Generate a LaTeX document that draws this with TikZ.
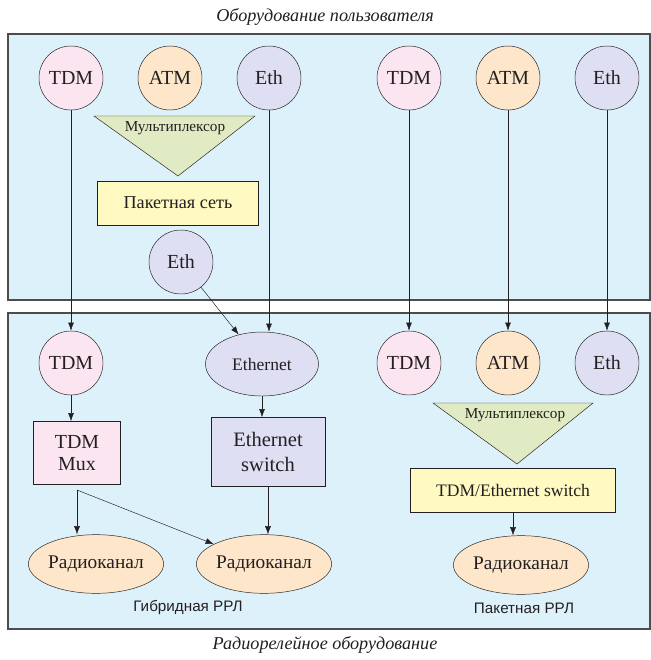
\documentclass[tikz,border=0pt]{standalone}
\usepackage{fontspec}
\setmainfont{Liberation Serif}
\newfontfamily\captionsans{Liberation Sans}
\usetikzlibrary{shapes.geometric,arrows.meta}

\definecolor{panelblue}{HTML}{DDF1FA}
\definecolor{tdmpink}{HTML}{FBE5F0}
\definecolor{atmorange}{HTML}{FDE6C9}
\definecolor{ethlilac}{HTML}{DEDFF3}
\definecolor{muxgreen}{HTML}{E0EAC3}
\definecolor{netyellow}{HTML}{FFFAC2}
\definecolor{inkgray}{HTML}{231F20}

\tikzset{
  port/.style={circle, draw=inkgray, thin, minimum size=1.92cm, inner sep=0pt,
    text=inkgray, font=\fontsize{17}{18}\selectfont},
  tdmport/.style={port, fill=tdmpink},
  atmport/.style={port, fill=atmorange},
  ethport/.style={port, fill=ethlilac},
  unitbox/.style={rectangle, draw=inkgray, thin, inner sep=0pt, text=inkgray, align=center},
  radio/.style={ellipse, draw=inkgray, thin, fill=atmorange, inner sep=0pt,
    minimum width=3.96cm, minimum height=1.76cm, text=inkgray,
    font=\fontsize{16.5}{18}\selectfont},
  muxshape/.style={draw=inkgray, thin, fill=muxgreen},
  muxlabel/.style={text=inkgray, font=\fontsize{13}{14}\selectfont},
  panel/.style={draw=black!70, line width=0.9pt, fill=panelblue},
  arr/.style={draw=inkgray, thin, -{Latex[length=7pt,width=5pt]}},
  title/.style={text=inkgray, font=\fontsize{15.5}{17}\selectfont\itshape},
  netname/.style={text=inkgray, font=\captionsans\fontsize{13}{14}\selectfont}
}

\begin{document}
\begin{tikzpicture}[x=0.03cm, y=-0.03cm]
\useasboundingbox (0,0) rectangle (651,660);

% panels
\draw[panel] (8,34) rectangle (650,300);
\draw[panel] (8,313) rectangle (650,629);
\node[title] (usertitle) at (325,17) {Оборудование пользователя};
\node[title] (radiotitle) at (325,645) {Радиорелейное оборудование};

% user equipment, left group
\node[tdmport] (tdmA) at (71,78) {TDM};
\node[atmport] (atmA) at (170,78) {ATM};
\node[ethport] (ethA) at (269,78) {Eth};
\draw[muxshape] (94,116) -- (255,116) -- (178,176) -- cycle;
\node[muxlabel] (muxA) at (175,128) {Мультиплексор};
\node[unitbox, fill=netyellow, minimum width=4.83cm, minimum height=1.32cm,
  font=\fontsize{15.5}{17}\selectfont] (netA) at (178,203) {Пакетная сеть};
\node[ethport] (ethC) at (181,262) {Eth};

% user equipment, right group
\node[tdmport] (tdmB) at (409,78) {TDM};
\node[atmport] (atmB) at (508,78) {ATM};
\node[ethport] (ethB) at (607,78) {Eth};

% hybrid radio relay
\node[tdmport] (tdmD) at (71,363) {TDM};
\node[ellipse, draw=inkgray, thin, fill=ethlilac, inner sep=0pt, minimum width=3.39cm,
  minimum height=1.92cm, text=inkgray, font=\fontsize{15}{16}\selectfont] (etherD) at (262,364) {Ethernet};
\node[unitbox, fill=tdmpink, minimum width=2.61cm, minimum height=1.89cm,
  font=\fontsize{17}{19}\selectfont] (muxD) at (77,453) {TDM\\Mux};
\node[unitbox, fill=ethlilac, minimum width=3.42cm, minimum height=2.07cm,
  font=\fontsize{17.5}{21}\selectfont] (swD) at (268,452) {Ethernet\\switch};
\node[radio] (radioL) at (96,564) {Радиоканал};
\node[radio] (radioM) at (264,564) {Радиоканал};
\coordinate (split) at (77,490);
\node[netname] (hybrid) at (188,607) {Гибридная РРЛ};

% packet radio relay
\node[tdmport] (tdmE) at (409,363) {TDM};
\node[atmport] (atmE) at (508,363) {ATM};
\node[ethport] (ethE) at (607,363) {Eth};
\draw[muxshape] (433,403) -- (593,403) -- (517,464) -- cycle;
\node[muxlabel] (muxE) at (515,415) {Мультиплексор};
\node[unitbox, fill=netyellow, minimum width=6.15cm, minimum height=1.32cm,
  font=\fontsize{15}{17}\selectfont] (swE) at (513,490) {TDM/Ethernet switch};
\node[radio] (radioR) at (521,565) {Радиоканал};
\node[netname] (packet) at (524,608) {Пакетная РРЛ};

% connectors
\draw[arr] (tdmA) -- (tdmD);
\draw[arr] (ethA) -- (ethA |- etherD.north);
\draw[arr] (ethC) -- (etherD);
\draw[arr] (tdmB) -- (tdmE);
\draw[arr] (atmB) -- (atmE);
\draw[arr] (ethB) -- (ethE);
\draw[arr] (tdmD) -- (tdmD |- muxD.north);
\draw[arr] (etherD) -- (etherD |- swD.north);
\draw[arr] (split) -- (split |- radioL.north);
\draw[arr] (split) -- (radioM);
\draw[arr] (swD) -- (swD |- radioM.north);
\draw[arr] (swE) -- (swE |- radioR.north);
\end{tikzpicture}
\end{document}
